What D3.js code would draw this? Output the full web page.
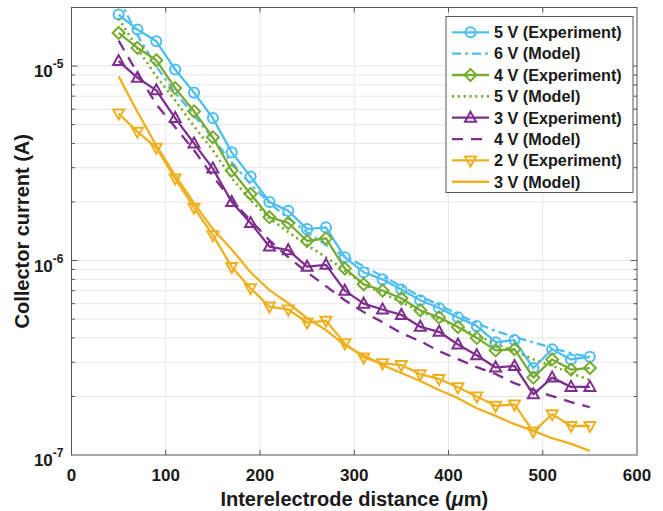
<!DOCTYPE html>
<html>
<head>
<meta charset="utf-8">
<script src="https://cdn.jsdelivr.net/npm/d3@7"></script>
<style>
  body { margin: 0; background: #fff; }
  svg { display: block; font-family: "Liberation Sans", Arial, Helvetica, sans-serif; }
</style>
</head>
<body>
<div id="chart"></div>
<script>
// interelectrode distance (um)
const distances = [50, 70, 90, 110, 130, 150, 170, 190, 210, 230, 250, 270, 290,
  310, 330, 350, 370, 390, 410, 430, 450, 470, 490, 510, 530, 550];

// collector current (A)
const exp5V = [1.84e-5, 1.54e-5, 1.34e-5, 9.6e-6, 7.3e-6, 5.4e-6, 3.6e-6, 2.7e-6, 2.0e-6, 1.8e-6,
  1.45e-6, 1.48e-6, 1.04e-6, 8.7e-7, 8.0e-7, 7.1e-7, 6.25e-7, 5.7e-7, 5.1e-7, 4.6e-7,
  3.8e-7, 3.9e-7, 2.8e-7, 3.5e-7, 3.1e-7, 3.2e-7];
const model6V = [2.25e-5, 1.44e-5, 9.95e-6, 7.3e-6, 5.58e-6, 4.25e-6, 3.2e-6, 2.47e-6, 1.97e-6, 1.65e-6,
  1.4e-6, 1.2e-6, 1.05e-6, 9.35e-7, 8.3e-7, 7.38e-7, 6.55e-7, 5.9e-7, 5.3e-7, 4.76e-7,
  4.34e-7, 4.04e-7, 3.8e-7, 3.55e-7, 3.34e-7, 3.19e-7];
const exp4V = [1.48e-5, 1.24e-5, 1.07e-5, 7.7e-6, 5.85e-6, 4.3e-6, 2.9e-6, 2.2e-6, 1.67e-6, 1.56e-6,
  1.26e-6, 1.3e-6, 9.1e-7, 7.55e-7, 7.0e-7, 6.4e-7, 5.55e-7, 5.1e-7, 4.55e-7, 4.0e-7,
  3.45e-7, 3.5e-7, 2.5e-7, 3.1e-7, 2.75e-7, 2.8e-7];
const model5V = [1.76e-5, 1.23e-5, 8.85e-6, 6.66e-6, 4.9e-6, 3.69e-6, 2.65e-6, 2.04e-6, 1.65e-6, 1.4e-6,
  1.2e-6, 1.04e-6, 8.9e-7, 7.55e-7, 6.8e-7, 6.1e-7, 5.5e-7, 5.0e-7, 4.54e-7, 4.13e-7,
  3.72e-7, 3.42e-7, 3.11e-7, 2.87e-7, 2.64e-7, 2.43e-7];
const exp3V = [1.06e-5, 8.7e-6, 7.5e-6, 5.4e-6, 4.0e-6, 2.97e-6, 2.0e-6, 1.56e-6, 1.18e-6, 1.13e-6,
  9.3e-7, 9.5e-7, 7.0e-7, 6.0e-7, 5.6e-7, 5.25e-7, 4.56e-7, 4.3e-7, 3.7e-7, 3.26e-7,
  2.82e-7, 2.87e-7, 2.05e-7, 2.5e-7, 2.24e-7, 2.24e-7];
const model4V = [1.35e-5, 9.2e-6, 6.35e-6, 4.84e-6, 3.69e-6, 2.71e-6, 2.04e-6, 1.61e-6, 1.27e-6, 1.04e-6,
  8.7e-7, 7.38e-7, 6.25e-7, 5.43e-7, 4.82e-7, 4.23e-7, 3.85e-7, 3.42e-7, 3.11e-7, 2.83e-7,
  2.61e-7, 2.34e-7, 2.16e-7, 2.01e-7, 1.87e-7, 1.76e-7];
const exp2V = [5.7e-6, 4.6e-6, 3.8e-6, 2.64e-6, 1.87e-6, 1.35e-6, 9.27e-7, 7.2e-7, 5.8e-7, 5.6e-7,
  4.8e-7, 4.9e-7, 3.75e-7, 3.17e-7, 2.96e-7, 2.9e-7, 2.6e-7, 2.46e-7, 2.23e-7, 2.0e-7,
  1.79e-7, 1.82e-7, 1.32e-7, 1.62e-7, 1.41e-7, 1.41e-7];
const model3V = [8.85e-6, 5.8e-6, 3.9e-6, 2.74e-6, 1.97e-6, 1.45e-6, 1.14e-6, 8.7e-7, 7.04e-7, 6.03e-7,
  5.05e-7, 4.39e-7, 3.67e-7, 3.26e-7, 2.9e-7, 2.64e-7, 2.4e-7, 2.16e-7, 1.96e-7, 1.74e-7,
  1.59e-7, 1.44e-7, 1.33e-7, 1.22e-7, 1.14e-7, 1.05e-7];

const xTicks = [0, 100, 200, 300, 400, 500, 600];
const yDecades = [-7, -6, -5];

const blue = "#4DBEEE", green = "#77AC30", purple = "#7E2F8E", orange = "#EDB120";

const series = [
  { name: "5 V (Experiment)", values: exp5V, color: blue, dash: null, marker: "circle" },
  { name: "6 V (Model)", values: model6V, color: blue, dash: "9,4,3,4", marker: null },
  { name: "4 V (Experiment)", values: exp4V, color: green, dash: null, marker: "diamond" },
  { name: "5 V (Model)", values: model5V, color: green, dash: "2.2,3.6", marker: null },
  { name: "3 V (Experiment)", values: exp3V, color: purple, dash: null, marker: "up" },
  { name: "4 V (Model)", values: model4V, color: purple, dash: "11,8", marker: null },
  { name: "2 V (Experiment)", values: exp2V, color: orange, dash: null, marker: "down" },
  { name: "3 V (Model)", values: model3V, color: orange, dash: null, marker: null }
];

const width = 663, height = 511;
const pL = 71.5, pR = 637, pT = 7.5, pB = 455;

const x = d3.scaleLinear().domain([0, 600]).range([pL, pR]);
const y = d3.scaleLog().domain([1e-7, 2e-5]).range([pB, pT]);

const svg = d3.select("#chart").append("svg")
  .attr("width", width)
  .attr("height", height);

svg.append("defs").append("clipPath").attr("id", "plot-clip")
  .append("rect")
  .attr("x", pL).attr("y", pT)
  .attr("width", pR - pL).attr("height", pB - pT);

// grid
const minorY = [];
for (let e = -7; e <= -5; e++) {
  for (let m = 1; m <= 9; m++) {
    const v = m * Math.pow(10, e);
    if (v <= 2e-5) minorY.push(v);
  }
}
const grid = svg.append("g").attr("stroke", "#e6e6e6").attr("stroke-width", 1);
grid.selectAll(".gx")
  .data(xTicks.slice(1, -1))
  .join("line")
  .attr("x1", d => x(d)).attr("x2", d => x(d))
  .attr("y1", pT).attr("y2", pB);
grid.selectAll(".gy")
  .data(minorY.filter(v => v > 1e-7))
  .join("line")
  .attr("x1", pL).attr("x2", pR)
  .attr("y1", d => y(d)).attr("y2", d => y(d));

// series
const plot = svg.append("g").attr("clip-path", "url(#plot-clip)");
const line = d3.line()
  .x((d, i) => x(distances[i]))
  .y(d => y(d));

function markerPath(type) {
  if (type === "diamond") return "M0,-6L6,0L0,6L-6,0Z";
  if (type === "up") return "M0,-6L5.5,4L-5.5,4Z";
  if (type === "down") return "M0,6L5.5,-4L-5.5,-4Z";
  return d3.symbol(d3.symbolCircle, 80)();
}

const lw = s => s.dash === "2.2,3.6" ? 2.6 : 2.3;

series.forEach(s => {
  const g = plot.append("g");
  g.append("path")
    .datum(s.values)
    .attr("fill", "none")
    .attr("stroke", s.color)
    .attr("stroke-width", lw(s))
    .attr("stroke-dasharray", s.dash)
    .attr("stroke-linejoin", "round")
    .attr("d", line);
  if (s.marker) {
    g.selectAll("path.m")
      .data(s.values)
      .join("path")
      .attr("class", "m")
      .attr("fill", "none")
      .attr("stroke", s.color)
      .attr("stroke-width", 2)
      .attr("transform", (d, i) => `translate(${x(distances[i])},${y(d)})`)
      .attr("d", markerPath(s.marker));
  }
});

// axes box and ticks
const axisColor = "#555";
svg.append("rect")
  .attr("x", pL).attr("y", pT)
  .attr("width", pR - pL).attr("height", pB - pT)
  .attr("fill", "none").attr("stroke", axisColor).attr("stroke-width", 1);

const ticks = svg.append("g").attr("stroke", axisColor).attr("stroke-width", 1);
xTicks.slice(1, -1).forEach(t => {
  ticks.append("line").attr("x1", x(t)).attr("x2", x(t)).attr("y1", pB).attr("y2", pB - 5);
  ticks.append("line").attr("x1", x(t)).attr("x2", x(t)).attr("y1", pT).attr("y2", pT + 5);
});
minorY.filter(v => v > 1e-7).forEach(v => {
  const major = Math.abs(Math.log10(v) - Math.round(Math.log10(v))) < 1e-9;
  const len = major ? 6 : 3.5;
  ticks.append("line").attr("x1", pL).attr("x2", pL + len).attr("y1", y(v)).attr("y2", y(v));
  ticks.append("line").attr("x1", pR).attr("x2", pR - len).attr("y1", y(v)).attr("y2", y(v));
});

// tick labels
svg.append("g")
  .attr("font-size", 17).attr("font-weight", "bold").attr("fill", "#1a1a1a")
  .attr("text-anchor", "middle")
  .selectAll("text")
  .data(xTicks)
  .join("text")
  .attr("x", d => x(d))
  .attr("y", pB + 26)
  .text(d => d);

const yl = svg.append("g").attr("font-weight", "bold").attr("fill", "#1a1a1a");
yDecades.forEach(e => {
  const t = yl.append("text")
    .attr("x", 63.5)
    .attr("y", y(Math.pow(10, e)) + 11)
    .attr("text-anchor", "end")
    .attr("font-size", 17);
  t.append("tspan").text("10");
  t.append("tspan").attr("font-size", 12).attr("dy", -9).text("-" + (-e));
});

// axis titles
const xt = svg.append("text")
  .attr("x", (pL + pR) / 2)
  .attr("y", 506)
  .attr("text-anchor", "middle")
  .attr("font-size", 20).attr("font-weight", "bold").attr("fill", "#1a1a1a");
xt.append("tspan").text("Interelectrode distance (");
xt.append("tspan").attr("font-style", "italic").text("\u03bc");
xt.append("tspan").text("m)");

svg.append("text")
  .attr("transform", `translate(29,${(pT + pB) / 2}) rotate(-90)`)
  .attr("text-anchor", "middle")
  .attr("font-size", 20).attr("font-weight", "bold").attr("fill", "#1a1a1a")
  .text("Collector current (A)");

// legend
const lgX = 446, lgY = 16.5, lgW = 187, lgH = 176;
const legend = svg.append("g");
legend.append("rect")
  .attr("x", lgX).attr("y", lgY).attr("width", lgW).attr("height", lgH)
  .attr("fill", "#fff").attr("stroke", "#555").attr("stroke-width", 1);

series.forEach((s, i) => {
  const cy = 32.3 + i * 21.35;
  const g = legend.append("g");
  g.append("line")
    .attr("x1", 452).attr("x2", 489)
    .attr("y1", cy).attr("y2", cy)
    .attr("stroke", s.color)
    .attr("stroke-width", lw(s))
    .attr("stroke-dasharray", s.dash);
  if (s.marker) {
    g.append("path")
      .attr("transform", `translate(470.5,${cy})`)
      .attr("d", markerPath(s.marker))
      .attr("fill", "none").attr("stroke", s.color).attr("stroke-width", 2);
  }
  g.append("text")
    .attr("x", 494)
    .attr("y", cy + 5.8)
    .attr("font-size", 16.2).attr("font-weight", "bold").attr("fill", "#1a1a1a")
    .text(s.name);
});
</script>
</body>
</html>
